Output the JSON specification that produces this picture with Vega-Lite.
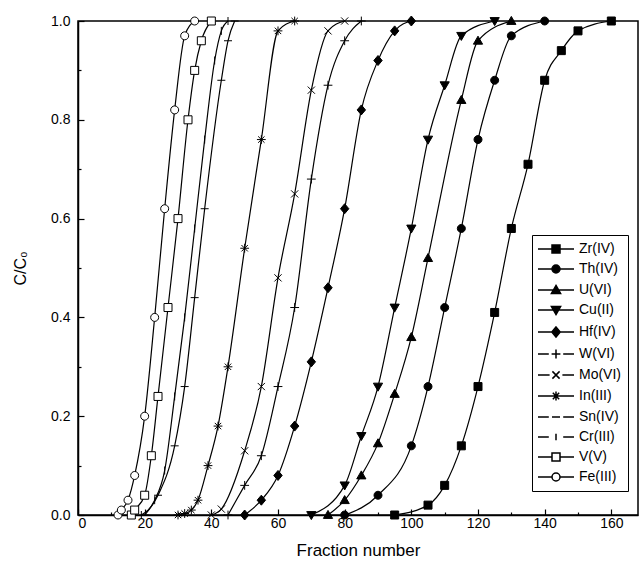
{
  "$schema": "https://vega.github.io/schema/vega-lite/v6.json",
  "width": 560,
  "height": 494,
  "autosize": "none",
  "padding": {"left": 78, "top": 21, "right": 1, "bottom": 57},
  "config": {
    "font": "Liberation Sans",
    "view": {"stroke": "black", "strokeWidth": 1.5},
    "axis": {
      "grid": false,
      "domainColor": "black",
      "domainWidth": 1.5,
      "tickColor": "black",
      "tickWidth": 1.2,
      "labelFont": "Liberation Sans",
      "labelFontSize": 14,
      "labelColor": "black",
      "titleFont": "Liberation Sans",
      "titleFontSize": 16,
      "titleFontWeight": "normal",
      "titleColor": "black"
    }
  },
  "data": {
    "values": [
      {"metal": "Zr(IV)", "x": 95, "y": 0},
      {"metal": "Zr(IV)", "x": 105, "y": 0.02},
      {"metal": "Zr(IV)", "x": 110, "y": 0.06},
      {"metal": "Zr(IV)", "x": 115, "y": 0.14},
      {"metal": "Zr(IV)", "x": 120, "y": 0.26},
      {"metal": "Zr(IV)", "x": 125, "y": 0.41},
      {"metal": "Zr(IV)", "x": 130, "y": 0.58},
      {"metal": "Zr(IV)", "x": 135, "y": 0.71},
      {"metal": "Zr(IV)", "x": 140, "y": 0.88},
      {"metal": "Zr(IV)", "x": 145, "y": 0.94},
      {"metal": "Zr(IV)", "x": 150, "y": 0.98},
      {"metal": "Zr(IV)", "x": 160, "y": 1.0},
      {"metal": "Th(IV)", "x": 80, "y": 0},
      {"metal": "Th(IV)", "x": 90, "y": 0.04},
      {"metal": "Th(IV)", "x": 100, "y": 0.14},
      {"metal": "Th(IV)", "x": 105, "y": 0.26},
      {"metal": "Th(IV)", "x": 110, "y": 0.42},
      {"metal": "Th(IV)", "x": 115, "y": 0.58},
      {"metal": "Th(IV)", "x": 120, "y": 0.76},
      {"metal": "Th(IV)", "x": 125, "y": 0.88},
      {"metal": "Th(IV)", "x": 130, "y": 0.97},
      {"metal": "Th(IV)", "x": 140, "y": 1.0},
      {"metal": "U(VI)", "x": 75, "y": 0},
      {"metal": "U(VI)", "x": 80, "y": 0.03},
      {"metal": "U(VI)", "x": 85, "y": 0.08},
      {"metal": "U(VI)", "x": 90, "y": 0.145},
      {"metal": "U(VI)", "x": 95, "y": 0.245},
      {"metal": "U(VI)", "x": 100, "y": 0.36},
      {"metal": "U(VI)", "x": 105, "y": 0.52},
      {"metal": "U(VI)", "x": 115, "y": 0.84},
      {"metal": "U(VI)", "x": 120, "y": 0.96},
      {"metal": "U(VI)", "x": 130, "y": 1.0},
      {"metal": "Cu(II)", "x": 70, "y": 0},
      {"metal": "Cu(II)", "x": 80, "y": 0.06},
      {"metal": "Cu(II)", "x": 85, "y": 0.16},
      {"metal": "Cu(II)", "x": 90, "y": 0.26},
      {"metal": "Cu(II)", "x": 95, "y": 0.42},
      {"metal": "Cu(II)", "x": 100, "y": 0.58},
      {"metal": "Cu(II)", "x": 105, "y": 0.76},
      {"metal": "Cu(II)", "x": 110, "y": 0.87},
      {"metal": "Cu(II)", "x": 115, "y": 0.97},
      {"metal": "Cu(II)", "x": 125, "y": 1.0},
      {"metal": "Hf(IV)", "x": 50, "y": 0},
      {"metal": "Hf(IV)", "x": 55, "y": 0.03},
      {"metal": "Hf(IV)", "x": 60, "y": 0.08},
      {"metal": "Hf(IV)", "x": 65, "y": 0.18},
      {"metal": "Hf(IV)", "x": 70, "y": 0.31},
      {"metal": "Hf(IV)", "x": 75, "y": 0.46},
      {"metal": "Hf(IV)", "x": 80, "y": 0.62},
      {"metal": "Hf(IV)", "x": 85, "y": 0.82},
      {"metal": "Hf(IV)", "x": 90, "y": 0.92},
      {"metal": "Hf(IV)", "x": 95, "y": 0.98},
      {"metal": "Hf(IV)", "x": 100, "y": 1.0},
      {"metal": "W(VI)", "x": 45, "y": 0},
      {"metal": "W(VI)", "x": 50, "y": 0.06},
      {"metal": "W(VI)", "x": 55, "y": 0.12},
      {"metal": "W(VI)", "x": 60, "y": 0.26},
      {"metal": "W(VI)", "x": 65, "y": 0.42},
      {"metal": "W(VI)", "x": 70, "y": 0.68},
      {"metal": "W(VI)", "x": 75, "y": 0.87},
      {"metal": "W(VI)", "x": 80, "y": 0.96},
      {"metal": "W(VI)", "x": 85, "y": 1.0},
      {"metal": "Mo(VI)", "x": 40, "y": 0},
      {"metal": "Mo(VI)", "x": 43, "y": 0.012},
      {"metal": "Mo(VI)", "x": 50, "y": 0.13},
      {"metal": "Mo(VI)", "x": 55, "y": 0.26},
      {"metal": "Mo(VI)", "x": 60, "y": 0.48},
      {"metal": "Mo(VI)", "x": 65, "y": 0.65},
      {"metal": "Mo(VI)", "x": 70, "y": 0.86},
      {"metal": "Mo(VI)", "x": 75, "y": 0.98},
      {"metal": "Mo(VI)", "x": 80, "y": 1.0},
      {"metal": "In(III)", "x": 30, "y": 0},
      {"metal": "In(III)", "x": 32, "y": 0.003},
      {"metal": "In(III)", "x": 34, "y": 0.01},
      {"metal": "In(III)", "x": 36, "y": 0.03},
      {"metal": "In(III)", "x": 39, "y": 0.1},
      {"metal": "In(III)", "x": 42, "y": 0.18},
      {"metal": "In(III)", "x": 45, "y": 0.3},
      {"metal": "In(III)", "x": 50, "y": 0.54},
      {"metal": "In(III)", "x": 55, "y": 0.76},
      {"metal": "In(III)", "x": 60, "y": 0.98},
      {"metal": "In(III)", "x": 65, "y": 1.0},
      {"metal": "Sn(IV)", "x": 20, "y": 0},
      {"metal": "Sn(IV)", "x": 24, "y": 0.04},
      {"metal": "Sn(IV)", "x": 29, "y": 0.14},
      {"metal": "Sn(IV)", "x": 32, "y": 0.26},
      {"metal": "Sn(IV)", "x": 35, "y": 0.44},
      {"metal": "Sn(IV)", "x": 38, "y": 0.62},
      {"metal": "Sn(IV)", "x": 43, "y": 0.88},
      {"metal": "Sn(IV)", "x": 45, "y": 0.96},
      {"metal": "Sn(IV)", "x": 47, "y": 1.0},
      {"metal": "Cr(III)", "x": 19, "y": 0},
      {"metal": "Cr(III)", "x": 23, "y": 0.03},
      {"metal": "Cr(III)", "x": 26, "y": 0.09},
      {"metal": "Cr(III)", "x": 29, "y": 0.24},
      {"metal": "Cr(III)", "x": 32, "y": 0.4},
      {"metal": "Cr(III)", "x": 35, "y": 0.58},
      {"metal": "Cr(III)", "x": 38, "y": 0.76},
      {"metal": "Cr(III)", "x": 41, "y": 0.92},
      {"metal": "Cr(III)", "x": 43, "y": 0.98},
      {"metal": "Cr(III)", "x": 45, "y": 1.0},
      {"metal": "V(V)", "x": 16, "y": 0},
      {"metal": "V(V)", "x": 17, "y": 0.01},
      {"metal": "V(V)", "x": 20, "y": 0.04},
      {"metal": "V(V)", "x": 22, "y": 0.12},
      {"metal": "V(V)", "x": 24, "y": 0.24},
      {"metal": "V(V)", "x": 27, "y": 0.42},
      {"metal": "V(V)", "x": 30, "y": 0.6},
      {"metal": "V(V)", "x": 33, "y": 0.8},
      {"metal": "V(V)", "x": 35, "y": 0.9},
      {"metal": "V(V)", "x": 37, "y": 0.96},
      {"metal": "V(V)", "x": 40, "y": 1.0},
      {"metal": "Fe(III)", "x": 12, "y": 0},
      {"metal": "Fe(III)", "x": 13, "y": 0.01},
      {"metal": "Fe(III)", "x": 15, "y": 0.03},
      {"metal": "Fe(III)", "x": 17, "y": 0.08},
      {"metal": "Fe(III)", "x": 20, "y": 0.2},
      {"metal": "Fe(III)", "x": 23, "y": 0.4},
      {"metal": "Fe(III)", "x": 26, "y": 0.62},
      {"metal": "Fe(III)", "x": 29, "y": 0.82},
      {"metal": "Fe(III)", "x": 32, "y": 0.97},
      {"metal": "Fe(III)", "x": 35, "y": 1.0}
    ]
  },
  "encoding": {
    "x": {
      "field": "x",
      "type": "quantitative",
      "scale": {"domain": [0, 168], "nice": false, "zero": false},
      "axis": {
        "title": "Fraction number",
        "values": [0, 10, 20, 30, 40, 50, 60, 70, 80, 90, 100, 110, 120, 130, 140, 150, 160],
        "labelExpr": "datum.value % 20 === 0 ? datum.label : ''",
        "tickSize": {"condition": {"test": "datum.value % 20 === 0", "value": -6}, "value": -3},
        "labelPadding": 7,
        "titlePadding": 12,
        "titleFontSize": 17
      }
    },
    "y": {
      "field": "y",
      "type": "quantitative",
      "scale": {"domain": [0, 1], "nice": false},
      "axis": {
        "title": "C/C₀",
        "values": [0, 0.1, 0.2, 0.3, 0.4, 0.5, 0.6, 0.7, 0.8, 0.9, 1.0],
        "format": ".1f",
        "labelExpr": "round(datum.value * 10) % 2 === 0 ? datum.label : ''",
        "tickSize": {"condition": {"test": "round(datum.value * 10) % 2 === 0", "value": -6}, "value": -3},
        "labelPadding": 14,
        "titlePadding": 22
      }
    }
  },
  "layer": [
    {
      "mark": {"type": "line", "interpolate": "monotone", "color": "black", "strokeWidth": 1.2},
      "encoding": {"detail": {"field": "metal"}}
    },
    {
      "mark": {"type": "point", "filled": true, "stroke": "black", "strokeWidth": 1, "size": 64, "opacity": 1},
      "encoding": {
        "shape": {
          "field": "metal",
          "type": "nominal",
          "legend": null,
          "scale": {
            "domain": ["Zr(IV)", "Th(IV)", "U(VI)", "Cu(II)", "Hf(IV)", "W(VI)", "Mo(VI)", "In(III)", "Sn(IV)", "Cr(III)", "V(V)", "Fe(III)"],
            "range": [
              "M-1,-1H1V1H-1Z",
              "M1,0A1,1,0,1,1,-1,0A1,1,0,1,1,1,0Z",
              "M0,-1.15L1.15,0.85H-1.15Z",
              "M0,1.15L1.15,-0.85H-1.15Z",
              "M0,-1.25L1.05,0L0,1.25L-1.05,0Z",
              "M-1.1,0H1.1M0,-1.1V1.1",
              "M-0.9,-0.9L0.9,0.9M-0.9,0.9L0.9,-0.9",
              "M-1.1,0H1.1M0,-1.1V1.1M-0.8,-0.8L0.8,0.8M-0.8,0.8L0.8,-0.8",
              "M-1,0H1",
              "M0,-1V1",
              "M-1,-1H1V1H-1Z",
              "M1,0A1,1,0,1,1,-1,0A1,1,0,1,1,1,0Z"
            ]
          }
        },
        "fill": {
          "field": "metal",
          "type": "nominal",
          "legend": null,
          "scale": {
            "domain": ["Zr(IV)", "Th(IV)", "U(VI)", "Cu(II)", "Hf(IV)", "W(VI)", "Mo(VI)", "In(III)", "Sn(IV)", "Cr(III)", "V(V)", "Fe(III)"],
            "range": ["black", "black", "black", "black", "black", "transparent", "transparent", "transparent", "transparent", "transparent", "white", "white"]
          }
        }
      }
    },
    {
      "mark": {"type": "point", "filled": true, "color": "black", "stroke": "black", "strokeWidth": 1, "size": 64, "opacity": 0},
      "encoding": {
        "shape": {
          "field": "metal",
          "type": "nominal",
          "title": null,
          "scale": {
            "domain": ["Zr(IV)", "Th(IV)", "U(VI)", "Cu(II)", "Hf(IV)", "W(VI)", "Mo(VI)", "In(III)", "Sn(IV)", "Cr(III)", "V(V)", "Fe(III)"],
            "range": [
              "M-4.5,0H-1M1,0H4.5M-1,-1H1V1H-1Z",
              "M-4.5,0H-1M1,0H4.5M1,0A1,1,0,1,1,-1,0A1,1,0,1,1,1,0Z",
              "M-4.5,0H-0.6M0.6,0H4.5M0,-1.15L1.15,0.85H-1.15Z",
              "M-4.5,0H-0.6M0.6,0H4.5M0,1.15L1.15,-0.85H-1.15Z",
              "M-4.5,0H-1M1,0H4.5M0,-1.25L1.05,0L0,1.25L-1.05,0Z",
              "M-4.5,0H-1.8M-1.1,0H1.1M0,-1.1V1.1M1.8,0H4.5",
              "M-4.5,0H-1.6M-0.9,-0.9L0.9,0.9M-0.9,0.9L0.9,-0.9M1.6,0H4.5",
              "M-4.5,0H4.5M0,-1.1V1.1M-0.8,-0.8L0.8,0.8M-0.8,0.8L0.8,-0.8",
              "M-4.5,0H-1.8M-1,0H1M1.8,0H4.5",
              "M-4.5,0H-1.8M0,-0.8V0.8M1.8,0H4.5",
              "M-4.5,0H-1M1,0H4.5M-1,-1H1V1H-1ZM-1,-1V1H1V-1Z",
              "M-4.5,0H-1M1,0H4.5M1,0A1,1,0,1,1,-1,0A1,1,0,1,1,1,0ZM1,0A1,1,0,1,0,-1,0A1,1,0,1,0,1,0Z"
            ]
          },
          "legend": {
            "orient": "none",
            "legendX": 454,
            "legendY": 214,
            "symbolSize": 64,
            "symbolOffset": 10,
            "labelOffset": 16,
            "labelFont": "Liberation Sans",
            "labelFontSize": 14,
            "labelColor": "black",
            "rowPadding": 6,
            "padding": 7,
            "strokeColor": "black",
            "fillColor": "white",
            "encode": {
              "symbols": {
                "update": {
                  "stroke": {"value": "black"},
                  "strokeWidth": {"value": 1},
                  "opacity": {"value": 1}
                }
              }
            }
          }
        }
      }
    }
  ],
  "resolve": {"scale": {"shape": "independent", "fill": "independent"}}
}
